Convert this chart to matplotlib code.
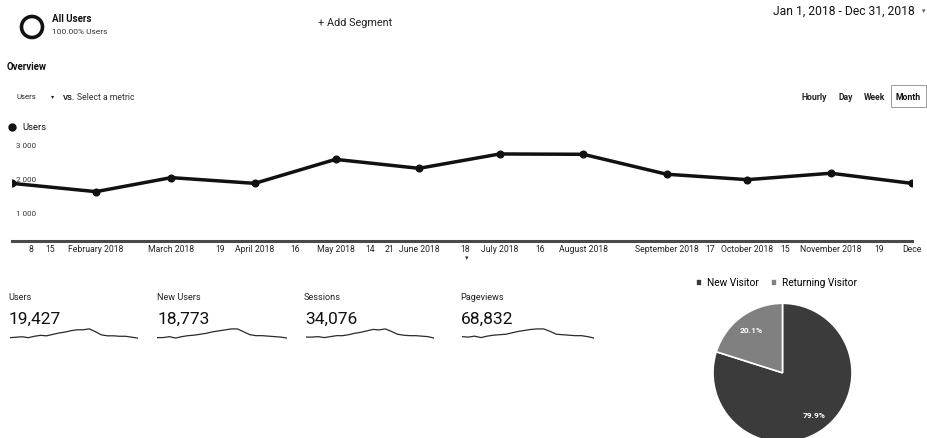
import matplotlib
matplotlib.use("Agg")
import matplotlib.pyplot as plt
from matplotlib.patches import Circle, Rectangle

plt.rcParams['font.family'] = ['Roboto', 'DejaVu Sans']

W, H = 927, 438

# monthly users, 2018
month_start_day = [0, 31, 59, 90, 120, 151, 181, 212, 243, 273, 304, 334]
monthly_users = [1900, 1655, 2070, 1900, 2610, 2345, 2770, 2760, 2170, 2010, 2200, 1900]

# axis labels along the time line
tick_days = [7, 14, 31, 59, 77, 90, 105, 120, 133, 140, 151, 168, 181, 196,
             212, 243, 259, 273, 287, 304, 322, 334]
tick_labels = ["8", "15", "February 2018", "March 2018", "19", "April 2018", "16",
               "May 2018", "14", "21", "June 2018", "18", "July 2018", "16",
               "August 2018", "September 2018", "17", "October 2018", "15",
               "November 2018", "19", "Dece"]
y_ticks = [1000, 2000, 3000]
y_tick_labels = ["1 000", "2 000", "3 000"]

# summary metrics
metric_names = ["Users", "New Users", "Sessions", "Pageviews"]
metric_totals = ["19,427", "18,773", "34,076", "68,832"]
users_spark = [8, 9, 10, 8, 11, 13, 12, 15, 18, 20, 23, 25, 25, 27, 21, 14, 12, 12, 11, 11, 9, 7]
new_users_spark = [8, 8, 10, 7, 10, 12, 13, 15, 17, 20, 22, 24, 26, 26, 20, 14, 12, 12, 11, 10, 9, 7]
sessions_spark = [9, 9, 10, 8, 10, 12, 12, 14, 17, 19, 22, 25, 24, 26, 21, 15, 13, 12, 12, 11, 10, 7]
pageviews_spark = [9, 8, 10, 7, 10, 12, 13, 14, 17, 20, 22, 24, 25, 25, 20, 14, 13, 12, 11, 11, 9, 6]
sparks = [users_spark, new_users_spark, sessions_spark, pageviews_spark]

# visitor type split
visitor_types = ["New Visitor", "Returning Visitor"]
visitor_share = [79.9, 20.1]
visitor_colors = ["#3b3b3b", "#808080"]


def box(x0, y0, x1, y1):
    # pixel rectangle (top-left origin) -> figure fraction
    return [x0 / W, 1 - y1 / H, (x1 - x0) / W, (y1 - y0) / H]


fig = plt.figure(figsize=(W / 100, H / 100), dpi=100)
fig.patch.set_facecolor("white")

# overlay in pixel coordinates for the page furniture
ov = fig.add_axes([0, 0, 1, 1])
ov.set_xlim(0, W)
ov.set_ylim(H, 0)
ov.axis("off")

ink = "#111111"
ov.add_patch(Circle((32, 27), 10.5, fill=False, lw=2.6, ec=ink))
ov.text(52, 19, "All Users", fontsize=7, fontweight="bold", color=ink, va="center")
ov.text(52, 32, "100.00% Users", fontsize=6, color="#333333", va="center")
ov.text(318, 23, "+ Add Segment", fontsize=7.8, color="#222222", va="center")
ov.text(915, 11, "Jan 1, 2018 - Dec 31, 2018", fontsize=8.7, color=ink, va="center", ha="right")
ov.text(924, 11, "▾", fontsize=5, color="#555555", va="center", ha="center", family="DejaVu Sans")

ov.text(7, 67, "Overview", fontsize=7, fontweight="bold", color=ink, va="center")
ov.text(17, 97, "Users", fontsize=5.6, color="#222222", va="center")
ov.text(53, 97, "▾", fontsize=4.5, color="#222222", va="center", ha="center", family="DejaVu Sans")
ov.text(63, 97, "VS.", fontsize=5.6, fontweight="bold", color="#222222", va="center")
ov.text(77, 97, "Select a metric", fontsize=6.2, color="#333333", va="center")

for label, x0 in zip(["Hourly", "Day", "Week"], [802, 839, 864]):
    ov.text(x0, 97, label, fontsize=6.2, fontweight="bold", color="#222222", va="center")
ov.add_patch(Rectangle((891, 85), 35, 22, fill=False, lw=0.7, ec="#9a9a9a"))
ov.text(908.5, 97, "Month", fontsize=6.2, fontweight="bold", color=ink, va="center", ha="center")

ov.plot([12], [127], "o", ms=5, color=ink)
ov.text(22, 127, "Users", fontsize=6.8, color=ink, va="center")
ov.text(467, 258, "▾", fontsize=5, color="#333333", va="center", ha="center", family="DejaVu Sans")

# main users-over-time line
ax = fig.add_axes(box(12.4, 140, 911.7, 241))
ax.set_facecolor("none")
ax.plot(month_start_day, monthly_users, color=ink, lw=2.5, marker="o", ms=4.8, zorder=3)
ax.set_xlim(0, 334)
ax.set_ylim(195, 3183)
for s in ["top", "right", "left"]:
    ax.spines[s].set_visible(False)
ax.spines["bottom"].set_color("#4a4a4a")
ax.spines["bottom"].set_linewidth(2.2)
ax.spines["bottom"].set_clip_on(False)
ax.set_yticks([])
ax.set_xticks(tick_days)
ax.set_xticklabels(tick_labels, fontsize=6.2, color="#222222")
ax.tick_params(axis="x", length=0, pad=3)
for v, lab in zip(y_ticks, y_tick_labels):
    ax.text(0.004, v, lab, fontsize=5.8, color="#333333", va="center",
            transform=ax.get_yaxis_transform(), zorder=1)

# metric totals with sparklines
label_x = [8, 157, 304, 460]
spark_span = [(10, 138), (157, 287), (306, 434), (462, 594)]
for name, total, x0, (sx0, sx1), values in zip(metric_names, metric_totals, label_x, spark_span, sparks):
    ov.text(x0, 298, name, fontsize=6.6, color="#222222", va="center")
    ov.text(x0 + 1, 319, total, fontsize=12.5, color=ink, va="center")
    sa = fig.add_axes(box(sx0, 327, sx1, 340))
    sa.set_facecolor("none")
    sa.plot(range(len(values)), values, color="#2a2a2a", lw=0.9)
    sa.set_xlim(0, len(values) - 1)
    sa.set_ylim(min(values) - 4, max(values) + 4)
    sa.axis("off")

# new vs returning visitors
pa = fig.add_axes(box(713, 303.3, 852, 442.3))
wedges, _, autotexts = pa.pie(visitor_share, colors=visitor_colors, startangle=90,
                              counterclock=False, autopct="%.1f%%", pctdistance=0.76,
                              wedgeprops=dict(edgecolor="white", linewidth=1.2),
                              textprops=dict(color="white", fontsize=6, fontweight="bold"))
pa.set_xlim(-1.0, 1.0)
pa.set_ylim(-1.0, 1.0)
pa.set_aspect("equal")

fig.legend(wedges, visitor_types, loc="center left", bbox_to_anchor=(696 / W, 1 - 283 / H),
           ncol=2, frameon=False, fontsize=7.3, handlelength=0.6, handleheight=0.6,
           handletextpad=0.5, columnspacing=1.2, borderaxespad=0, borderpad=0)

fig.savefig("out.png", dpi=100, facecolor="white")
